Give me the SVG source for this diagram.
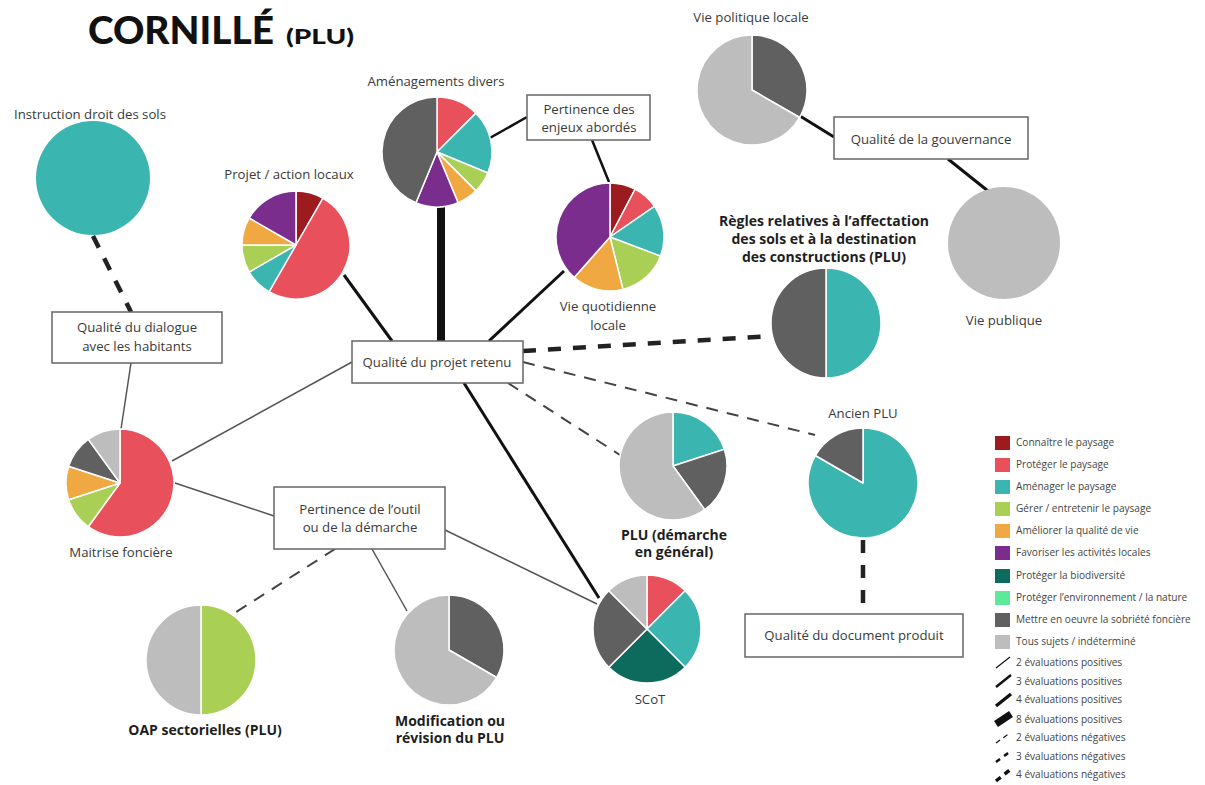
<svg xmlns="http://www.w3.org/2000/svg" width="1205" height="785" viewBox="0 0 1205 785">
<style>
.lbl{font-family:"Open Sans",Lato,"Liberation Sans",sans-serif;font-size:13.2px;fill:#3a3a3a;text-anchor:middle}
.b{font-weight:bold;font-size:14px;fill:#1e1e1e}
.box{fill:#fff;stroke:#666;stroke-width:1.5}
.sl{stroke:#fff;stroke-width:1.5;stroke-linejoin:round}
.k1{fill:#9b1b1f}.k2{fill:#e8505b}.k3{fill:#3bb5b0}.k4{fill:#a9cf54}.k5{fill:#f0a942}
.k6{fill:#7b2d8e}.k7{fill:#0d6b5e}.k8{fill:#5ee89a}.k9{fill:#606060}.k10{fill:#bdbdbd}
.c{fill:none;stroke:#111;stroke-linecap:butt}
.p1{stroke:#555;stroke-width:1.5}
.p3{stroke-width:3}
.p8{stroke-width:8}
.n2{stroke:#444;stroke-width:2;stroke-dasharray:12 9}
.n4{stroke:#222;stroke-width:4.5;stroke-dasharray:13 12}
.lg{font-family:"Open Sans",Lato,"Liberation Sans",sans-serif;font-size:10.1px;fill:#444}
</style>
<rect width="1205" height="785" fill="#fff"/>

<g id="title">
<text x="88" y="44" font-family="Lato,'Open Sans',sans-serif" font-weight="900" font-size="37" fill="#111" textLength="186" lengthAdjust="spacingAndGlyphs">CORNILLÉ</text>
<text x="286" y="44" font-family="Lato,'Open Sans',sans-serif" font-weight="900" font-size="20" fill="#111" textLength="68" lengthAdjust="spacingAndGlyphs">(PLU)</text>
</g>

<g id="connectors">
<line class="c n4" x1="93" y1="236" x2="131" y2="312"/>
<line class="c p1" x1="131" y1="363" x2="121" y2="429"/>
<line class="c p1" x1="172" y1="461" x2="352" y2="362"/>
<line class="c p1" x1="175" y1="483" x2="274" y2="516"/>
<line class="c n2" x1="335" y1="549" x2="233" y2="614"/>
<line class="c p1" x1="372" y1="549" x2="407" y2="611"/>
<line class="c p1" x1="445" y1="530" x2="597" y2="604"/>
<line class="c p3" x1="464" y1="383" x2="599" y2="598"/>
<line class="c p3" x1="392" y1="341" x2="344" y2="275"/>
<line class="c p8" x1="441" y1="207" x2="441" y2="341"/>
<line class="c p3" x1="489" y1="341" x2="564" y2="271"/>
<line class="c" stroke-width="2.5" x1="488" y1="139" x2="527" y2="117"/>
<line class="c" stroke-width="2.5" x1="592" y1="140" x2="609" y2="182"/>
<line class="c n4" x1="523" y1="351" x2="771" y2="336"/>
<line class="c n2" x1="523" y1="362" x2="815" y2="435"/>
<line class="c n2" x1="508" y1="383" x2="620" y2="455"/>
<line class="c p3" x1="800" y1="116" x2="834" y2="137"/>
<line class="c p3" x1="948" y1="159" x2="988" y2="191"/>
<line class="c n4" x1="863" y1="540" x2="863" y2="614"/>
</g>

<g id="instruction-droit-des-sols">
<circle cx="93" cy="178" r="57" class="k3"/>
<text class="lbl" x="90" y="119">Instruction droit des sols</text>
</g>

<g id="projet-action-locaux">
<path class="sl k1" d="M296,245 L296,191 A54,54 0 0 1 323,198.23 Z"/>
<path class="sl k2" d="M296,245 L323,198.23 A54,54 0 0 1 269,291.77 Z"/>
<path class="sl k3" d="M296,245 L269,291.77 A54,54 0 0 1 249.23,272 Z"/>
<path class="sl k4" d="M296,245 L249.23,272 A54,54 0 0 1 242,245 Z"/>
<path class="sl k5" d="M296,245 L242,245 A54,54 0 0 1 249.23,218 Z"/>
<path class="sl k6" d="M296,245 L249.23,218 A54,54 0 0 1 296,191 Z"/>
<text class="lbl" x="289" y="179">Projet / action locaux</text>
</g>

<g id="amenagements-divers">
<path class="sl k2" d="M437,152 L437,97 A55,55 0 0 1 475.89,113.11 Z"/>
<path class="sl k3" d="M437,152 L475.89,113.11 A55,55 0 0 1 487.81,173.05 Z"/>
<path class="sl k4" d="M437,152 L487.81,173.05 A55,55 0 0 1 475.89,190.89 Z"/>
<path class="sl k5" d="M437,152 L475.89,190.89 A55,55 0 0 1 458.05,202.81 Z"/>
<path class="sl k6" d="M437,152 L458.05,202.81 A55,55 0 0 1 415.95,202.81 Z"/>
<path class="sl k9" d="M437,152 L415.95,202.81 A55,55 0 0 1 437,97 Z"/>
<text class="lbl" x="436" y="86">Aménagements divers</text>
</g>

<g id="pertinence-enjeux">
<rect class="box" x="527" y="95" width="123" height="45"/>
<text class="lbl" x="589" y="114">Pertinence des</text>
<text class="lbl" x="589" y="132">enjeux abordés</text>
</g>

<g id="vie-quotidienne-locale">
<path class="sl k1" d="M610,237 L610,183 A54,54 0 0 1 635.09,189.18 Z"/>
<path class="sl k2" d="M610,237 L635.09,189.18 A54,54 0 0 1 654.44,206.32 Z"/>
<path class="sl k3" d="M610,237 L654.44,206.32 A54,54 0 0 1 660.49,256.15 Z"/>
<path class="sl k4" d="M610,237 L660.49,256.15 A54,54 0 0 1 622.92,289.43 Z"/>
<path class="sl k5" d="M610,237 L622.92,289.43 A54,54 0 0 1 574.19,277.42 Z"/>
<path class="sl k6" d="M610,237 L574.19,277.42 A54,54 0 0 1 610,183 Z"/>
<text class="lbl" x="608" y="311">Vie quotidienne</text>
<text class="lbl" x="608" y="330">locale</text>
</g>

<g id="vie-politique-locale">
<path class="sl k9" d="M752,90 L752,35 A55,55 0 0 1 799.63,117.5 Z"/>
<path class="sl k10" d="M752,90 L799.63,117.5 A55,55 0 1 1 752,35 Z"/>
<text class="lbl" x="751" y="22">Vie politique locale</text>
</g>

<g id="qualite-gouvernance">
<rect class="box" x="834" y="117" width="194" height="42"/>
<text class="lbl" x="931" y="144">Qualité de la gouvernance</text>
</g>

<g id="vie-publique">
<circle cx="1004" cy="243" r="56" class="k10"/>
<text class="lbl" x="1004" y="325">Vie publique</text>
</g>

<g id="regles-affectation">
<path class="sl k3" d="M826,323 L826,268 A55,55 0 0 1 826,378 Z"/>
<path class="sl k9" d="M826,323 L826,378 A55,55 0 0 1 826,268 Z"/>
<text class="lbl b" x="824" y="226">Règles relatives à l’affectation</text>
<text class="lbl b" x="824" y="244">des sols et à la destination</text>
<text class="lbl b" x="824" y="262">des constructions (PLU)</text>
</g>

<g id="qualite-dialogue">
<rect class="box" x="52" y="312" width="170" height="51"/>
<text class="lbl" x="137" y="332">Qualité du dialogue</text>
<text class="lbl" x="137" y="351">avec les habitants</text>
</g>

<g id="qualite-projet-retenu">
<rect class="box" x="352" y="341" width="171" height="42"/>
<text class="lbl" x="437" y="367">Qualité du projet retenu</text>
</g>

<g id="maitrise-fonciere">
<path class="sl k2" d="M120,483 L120,429 A54,54 0 1 1 88.26,526.69 Z"/>
<path class="sl k4" d="M120,483 L88.26,526.69 A54,54 0 0 1 68.64,499.69 Z"/>
<path class="sl k5" d="M120,483 L68.64,499.69 A54,54 0 0 1 68.64,466.31 Z"/>
<path class="sl k9" d="M120,483 L68.64,466.31 A54,54 0 0 1 88.26,439.31 Z"/>
<path class="sl k10" d="M120,483 L88.26,439.31 A54,54 0 0 1 120,429 Z"/>
<text class="lbl" x="121" y="557">Maitrise foncière</text>
</g>

<g id="pertinence-outil">
<rect class="box" x="274" y="487" width="171" height="62"/>
<text class="lbl" x="360" y="514">Pertinence de l’outil</text>
<text class="lbl" x="360" y="532">ou de la démarche</text>
</g>

<g id="plu-demarche">
<path class="sl k3" d="M673,466 L673,412 A54,54 0 0 1 724.36,449.31 Z"/>
<path class="sl k9" d="M673,466 L724.36,449.31 A54,54 0 0 1 704.74,509.69 Z"/>
<path class="sl k10" d="M673,466 L704.74,509.69 A54,54 0 1 1 673,412 Z"/>
<text class="lbl b" x="674" y="540">PLU (démarche</text>
<text class="lbl b" x="674" y="557">en général)</text>
</g>

<g id="ancien-plu">
<path class="sl k3" d="M863,483 L863,428 A55,55 0 1 1 815.37,455.5 Z"/>
<path class="sl k9" d="M863,483 L815.37,455.5 A55,55 0 0 1 863,428 Z"/>
<text class="lbl" x="863" y="418">Ancien PLU</text>
</g>

<g id="qualite-document">
<rect class="box" x="745" y="614" width="218" height="43"/>
<text class="lbl" x="854" y="640">Qualité du document produit</text>
</g>

<g id="scot">
<path class="sl k2" d="M647,629 L647,575 A54,54 0 0 1 685.18,590.82 Z"/>
<path class="sl k3" d="M647,629 L685.18,590.82 A54,54 0 0 1 685.18,667.18 Z"/>
<path class="sl k7" d="M647,629 L685.18,667.18 A54,54 0 0 1 608.82,667.18 Z"/>
<path class="sl k9" d="M647,629 L608.82,667.18 A54,54 0 0 1 608.82,590.82 Z"/>
<path class="sl k10" d="M647,629 L608.82,590.82 A54,54 0 0 1 647,575 Z"/>
<text class="lbl" x="650" y="704">SCoT</text>
</g>

<g id="oap-sectorielles">
<path class="sl k4" d="M201,660 L201,605 A55,55 0 0 1 201,715 Z"/>
<path class="sl k10" d="M201,660 L201,715 A55,55 0 0 1 201,605 Z"/>
<text class="lbl b" x="205" y="735">OAP sectorielles (PLU)</text>
</g>

<g id="modification-revision">
<path class="sl k9" d="M449,650 L449,595 A55,55 0 0 1 496.63,677.5 Z"/>
<path class="sl k10" d="M449,650 L496.63,677.5 A55,55 0 1 1 449,595 Z"/>
<text class="lbl b" x="450" y="726">Modification ou</text>
<text class="lbl b" x="450" y="743">révision du PLU</text>
</g>

<g id="legend">
<rect class="k1" x="995" y="436" width="15" height="14"/>
<rect class="k2" x="995" y="458" width="15" height="14"/>
<rect class="k3" x="995" y="480" width="15" height="14"/>
<rect class="k4" x="995" y="502" width="15" height="14"/>
<rect class="k5" x="995" y="524" width="15" height="14"/>
<rect class="k6" x="995" y="546" width="15" height="14"/>
<rect class="k7" x="995" y="569" width="15" height="14"/>
<rect class="k8" x="995" y="591" width="15" height="14"/>
<rect class="k9" x="995" y="613" width="15" height="14"/>
<rect class="k10" x="995" y="635" width="15" height="14"/>
<text class="lg" x="1016" y="446">Connaître le paysage</text>
<text class="lg" x="1016" y="468">Protéger le paysage</text>
<text class="lg" x="1016" y="490">Aménager le paysage</text>
<text class="lg" x="1016" y="512">Gérer / entretenir le paysage</text>
<text class="lg" x="1016" y="534">Améliorer la qualité de vie</text>
<text class="lg" x="1016" y="556">Favoriser les activités locales</text>
<text class="lg" x="1016" y="579">Protéger la biodiversité</text>
<text class="lg" x="1016" y="601">Protéger l’environnement / la nature</text>
<text class="lg" x="1016" y="623">Mettre en oeuvre la sobriété foncière</text>
<text class="lg" x="1016" y="645">Tous sujets / indéterminé</text>
<line class="c" stroke-width="1.2" x1="996" y1="668" x2="1010" y2="657"/>
<line class="c" stroke-width="2.5" x1="996" y1="687" x2="1011" y2="675"/>
<line class="c" stroke-width="3.5" x1="996" y1="706" x2="1011" y2="694"/>
<line class="c" stroke-width="7" x1="996" y1="724" x2="1011" y2="714"/>
<line class="c" stroke="#444" stroke-width="1.2" stroke-dasharray="5 4" x1="996" y1="743" x2="1010" y2="733"/>
<line class="c" stroke-width="2.5" stroke-dasharray="5 5" x1="996" y1="762" x2="1011" y2="751"/>
<line class="c" stroke-width="3.5" stroke-dasharray="6 5" x1="996" y1="781" x2="1011" y2="769"/>
<text class="lg" x="1016" y="666">2 évaluations positives</text>
<text class="lg" x="1016" y="685">3 évaluations positives</text>
<text class="lg" x="1016" y="703">4 évaluations positives</text>
<text class="lg" x="1016" y="723">8 évaluations positives</text>
<text class="lg" x="1016" y="741">2 évaluations négatives</text>
<text class="lg" x="1016" y="760">3 évaluations négatives</text>
<text class="lg" x="1016" y="778">4 évaluations négatives</text>
</g>
</svg>
